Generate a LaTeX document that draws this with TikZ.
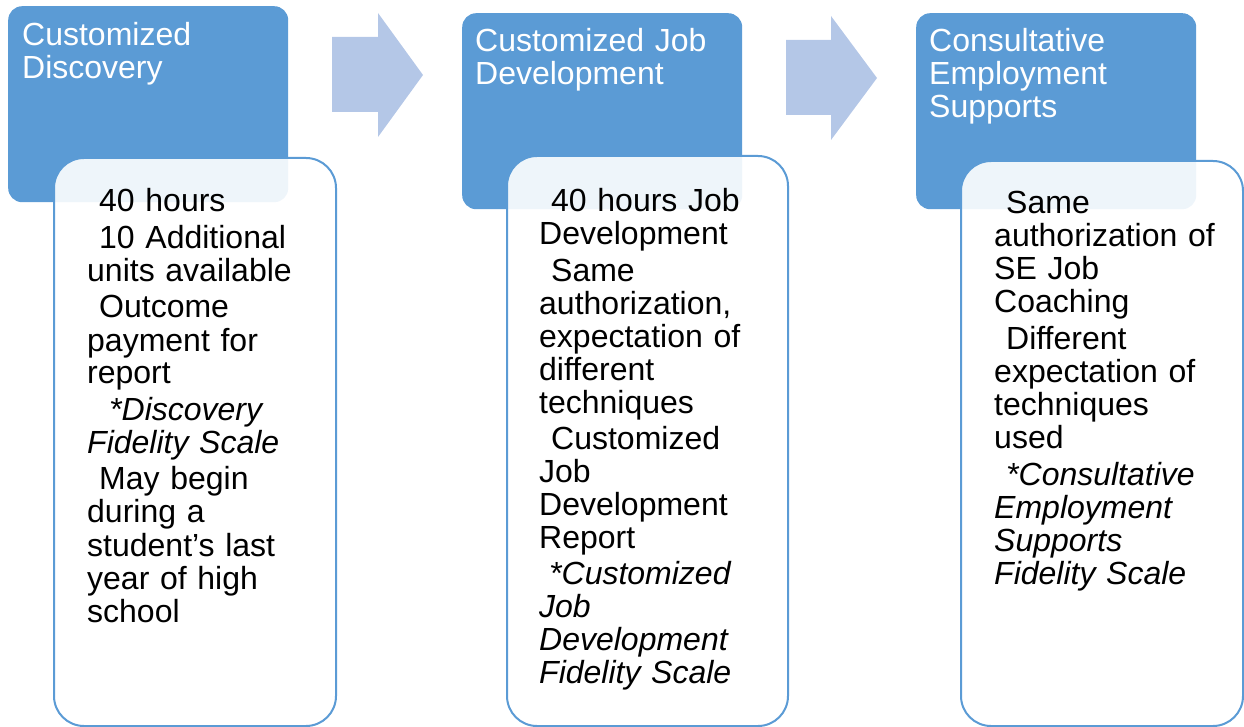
\documentclass[tikz,border=0pt]{standalone}
\usepackage{fontspec}
\setmainfont{Liberation Sans}
\definecolor{accent}{HTML}{5B9BD5}
\definecolor{arrowfill}{HTML}{B4C7E7}
\newcommand{\ind}[1]{\hspace*{#1pt}}
\begin{document}
\begin{tikzpicture}[x=1pt,y=-1pt,
  stagebox/.style={fill=accent, rounded corners=14pt, anchor=north west,
    minimum width=280pt, minimum height=196pt, inner sep=0pt},
  stagetitle/.style={anchor=base west, inner sep=0pt, text=white, text width=260pt,
    align=left, font=\fontsize{32}{33}\selectfont},
  detailbox/.style={draw=accent, line width=2pt, fill=white, fill opacity=0.9,
    rounded corners=30pt, anchor=north west, inner sep=0pt},
  detailtext/.style={anchor=base west, inner sep=0pt, text width=290pt, align=left,
    font=\fontsize{32}{33}\selectfont},
  flowarrow/.style={fill=arrowfill}]
\useasboundingbox (0,0) rectangle (1244,727);

% stage headers
\node[stagebox] (s1) at (8,6) {};
\node[stagebox] (s2) at (462,13) {};
\node[stagebox] (s3) at (916,13) {};

\node[stagetitle] (t1) at (22,46) {Customized\\Discovery};
\node[stagetitle] (t2) at (475,52) {Customized Job\\Development};
\node[stagetitle] (t3) at (929,52) {Consultative\\Employment\\Supports};

% block arrows between the stages
\path[flowarrow] (332,37) -- (378,37) -- (378,13) -- (423,75) -- (378,137)
  -- (378,112) -- (332,112) -- cycle;
\path[flowarrow] (786,40) -- (831,40) -- (831,16) -- (877,78) -- (831,140)
  -- (831,115) -- (786,115) -- cycle;

% detail panels
\node[detailbox, minimum width=282pt, minimum height=568pt] (d1) at (53,157) {};
\node[detailbox, minimum width=281pt, minimum height=570pt] (d2) at (506,155) {};
\node[detailbox, minimum width=282pt, minimum height=565pt] (d3) at (960,160) {};

\node[detailtext] (x1) at (87,212) {%
\ind{12}40 hours\\[3.5pt]
\ind{12}10 Additional\\units available\\[3.5pt]
\ind{12}Outcome\\payment for\\report\\[3.5pt]
\ind{22}\textit{*Discovery}\\\textit{Fidelity Scale}\\[3.5pt]
\ind{12}May begin\\during a\\student’s last\\year of high\\school};

\node[detailtext] (x2) at (539,212) {%
\ind{12}40 hours Job\\Development\\[3.3pt]
\ind{12}Same\\authorization,\\expectation of\\different\\techniques\\[3.3pt]
\ind{12}Customized\\Job\\Development\\Report\\[3.3pt]
\ind{10}\textit{*Customized}\\\textit{Job}\\\textit{Development}\\\textit{Fidelity Scale}};

\node[detailtext] (x3) at (994,214) {%
\ind{12}Same\\authorization of\\SE Job\\Coaching\\[4pt]
\ind{12}Different\\expectation of\\techniques\\used\\[4pt]
\ind{12}\textit{*Consultative}\\\textit{Employment}\\\textit{Supports}\\\textit{Fidelity Scale}};
\end{tikzpicture}
\end{document}
